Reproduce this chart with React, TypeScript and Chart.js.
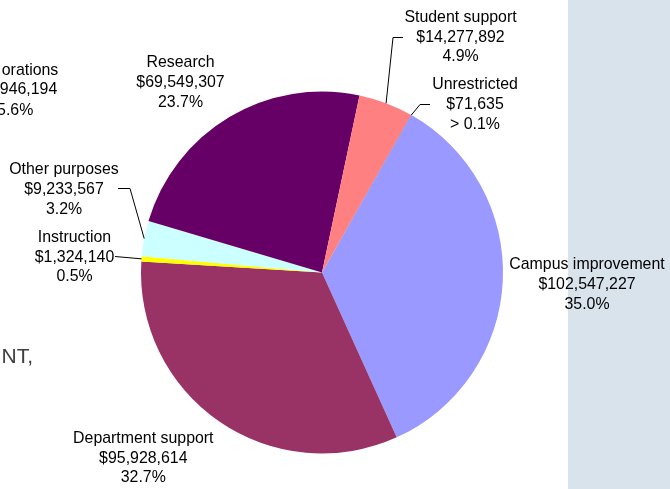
import React, { useEffect, useRef } from "react";
import { Chart, registerables } from "chart.js";

Chart.register(...registerables);

// ---- data ----
const categories = [
  "Campus improvement",
  "Department support",
  "Instruction",
  "Other purposes",
  "Research",
  "Student support",
  "Unrestricted",
];
const amounts = [102547227, 95928614, 1324140, 9233567, 69549307, 14277892, 71635];
const amountLabels = [
  "$102,547,227",
  "$95,928,614",
  "$1,324,140",
  "$9,233,567",
  "$69,549,307",
  "$14,277,892",
  "$71,635",
];
const percentLabels = ["35.0%", "32.7%", "0.5%", "3.2%", "23.7%", "4.9%", "> 0.1%"];
const sliceColors = ["#9999FF", "#993366", "#FFFF00", "#CCFFFF", "#660066", "#FF8080", "#0066CC"];

// ---- layout (text positions / leader elbows) ----
const labelCenters: [number, number][] = [
  [587, 265],
  [143.3, 438.5],
  [74.5, 237.5],
  [64, 170],
  [180.5, 63],
  [460.5, 17.5],
  [475, 85],
];
// leader: list of fixed points from the label side; final point is computed on the arc
const leaders: ([number, number][] | null)[] = [
  null,
  null,
  [[115, 256.5]],
  [[118, 188.5], [130, 188.5]],
  null,
  [[403, 37.5], [393, 37.5]],
  [[430, 104.5], [420, 104.5]],
];
const LINE_GAP = 19.7;
const FONT = '15.9px "Liberation Sans", Arial, sans-serif';
const PANEL_X = 568;
const PANEL_COLOR = "#D9E3EC";

const remnantLines = ["orations", "946,194", "5.6%"];
const remnantRight = [58.3, 57.3, 33.3];
const remnantY = [70.5, 90, 110.5];

const labelPlugin = {
  id: "sliceLabels",
  beforeDraw(chart: any) {
    const ctx = chart.ctx;
    ctx.save();
    ctx.fillStyle = "#FFFFFF";
    ctx.fillRect(0, 0, chart.width, chart.height);
    ctx.fillStyle = PANEL_COLOR;
    ctx.fillRect(PANEL_X, 0, chart.width - PANEL_X, chart.height);
    ctx.restore();
  },
  afterDatasetsDraw(chart: any) {
    const ctx = chart.ctx;
    const meta = chart.getDatasetMeta(0);
    ctx.save();
    // leader lines
    ctx.strokeStyle = "#000000";
    ctx.lineWidth = 1;
    meta.data.forEach((arc: any, i: number) => {
      const pts = leaders[i];
      if (!pts) return;
      const mid = (arc.startAngle + arc.endAngle) / 2;
      const ex = arc.x + Math.cos(mid) * arc.outerRadius;
      const ey = arc.y + Math.sin(mid) * arc.outerRadius;
      ctx.beginPath();
      ctx.moveTo(pts[0][0], pts[0][1]);
      for (let k = 1; k < pts.length; k++) ctx.lineTo(pts[k][0], pts[k][1]);
      ctx.lineTo(ex, ey);
      ctx.stroke();
    });
    // labels
    ctx.font = FONT;
    ctx.fillStyle = "#000000";
    ctx.textAlign = "center";
    ctx.textBaseline = "middle";
    categories.forEach((c, i) => {
      const [x, y] = labelCenters[i];
      ctx.fillText(c, x, y);
      ctx.fillText(amountLabels[i], x, y + LINE_GAP);
      ctx.fillText(percentLabels[i], x, y + 2 * LINE_GAP);
    });
    // remnants of neighbouring content
    ctx.textAlign = "right";
    remnantLines.forEach((t, i) => ctx.fillText(t, remnantRight[i], remnantY[i]));
    ctx.font = '21px "Liberation Sans", Arial, sans-serif';
    ctx.fillStyle = "#404040";
    ctx.textBaseline = "alphabetic";
    ctx.fillText("NT,", 33, 363);
    ctx.restore();
  },
};

export default function App() {
  const ref = useRef<HTMLCanvasElement>(null);
  useEffect(() => {
    if (!ref.current) return;
    const chart = new Chart(ref.current, {
      type: "pie",
      data: {
        labels: categories,
        datasets: [
          {
            data: amounts,
            backgroundColor: sliceColors,
            borderWidth: 0,
          },
        ],
      },
      options: {
        responsive: false,
        animation: false,
        rotation: 29.6,
        layout: { padding: { left: 141, right: 167, top: 91, bottom: 35 } },
        plugins: {
          legend: { display: false },
          tooltip: { enabled: false },
        },
      },
      plugins: [labelPlugin],
    });
    return () => chart.destroy();
  }, []);
  return (
    <div style={{ position: "fixed", left: 0, top: 0, width: 670, height: 489 }}>
      <canvas ref={ref} width={670} height={489} style={{ display: "block" }} />
    </div>
  );
}
